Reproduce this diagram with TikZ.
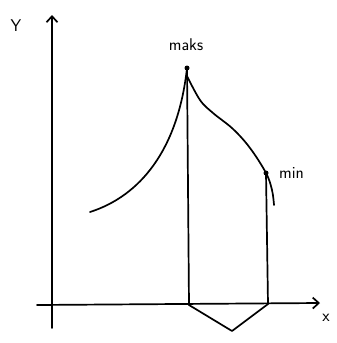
\documentclass[tikz,border=0pt]{standalone}
\usetikzlibrary{arrows.meta}
\begin{document}
\begin{tikzpicture}[x=1pt,y=-1pt,
  pen/.style={line width=1.7pt,line cap=round,line join=round},
  axis/.style={pen,-{Straight Barb[length=6pt,width=11pt]}},
  lbl/.style={font=\sffamily\fontsize{17}{19}\selectfont,inner sep=0pt}]
\useasboundingbox (0,0) rectangle (337,343);
\coordinate (yb) at (52,328);
\coordinate (yt) at (52,15);
\coordinate (xl) at (37,305);
\coordinate (xr) at (320,303);
\coordinate (peak) at (187,68);
\coordinate (pb) at (189,305);
\coordinate (mn) at (266,173);
\coordinate (mb) at (268,304);
\coordinate (tip) at (232,331);
\coordinate (start) at (90,212);
\coordinate (endc) at (274,205);
\node[lbl] (ylab) at (16,26) {Y};
\node[lbl] (xlab) at (326,318) {x};
\node[lbl] (maks) at (186,45) {maks};
\node[lbl,anchor=west] (minl) at (279,173) {min};
\draw[axis] (yb) -- (yt);
\draw[axis] (xl) -- (xr);
\draw[pen] (peak) -- (pb);
\draw[pen] (mn) -- (mb);
\draw[pen] (pb) -- (tip) -- (mb);
\draw[pen] (start) .. controls (140,196) and (178,150) .. (peak);
\draw[pen] plot[smooth,tension=0.6] coordinates {(187,76) (200,100) (213,113) (233,129) (250,148) (266,173) (272,190) (274,205)};
\fill (peak) circle (2.5pt);
\fill (mn) circle (2.5pt);
\end{tikzpicture}
\end{document}
